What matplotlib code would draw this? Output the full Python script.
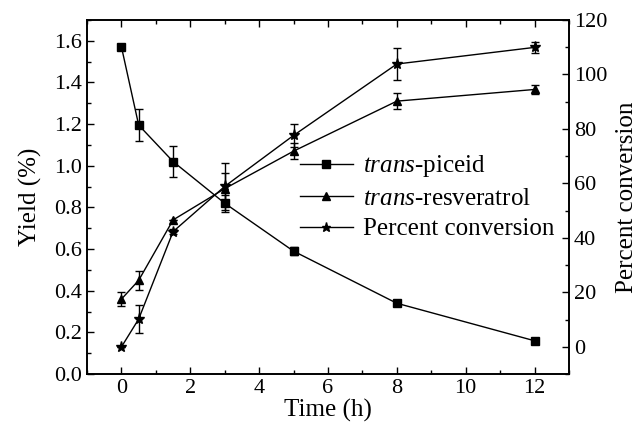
import matplotlib
matplotlib.use('Agg')
import matplotlib.pyplot as plt
from matplotlib.ticker import MultipleLocator

plt.rcParams['font.family'] = ['Liberation Serif', 'DejaVu Serif']
plt.rcParams['mathtext.fontset'] = 'custom'
plt.rcParams['mathtext.rm'] = 'Liberation Serif'
plt.rcParams['mathtext.it'] = 'Liberation Serif:italic'

# data
time_h = [0, 0.5, 1.5, 3, 5, 8, 12]
piceid = [1.57, 1.195, 1.02, 0.82, 0.59, 0.34, 0.16]
piceid_err = [0.0, 0.078, 0.076, 0.04, 0.02, 0.0, 0.0]
resveratrol = [0.36, 0.45, 0.74, 0.89, 1.07, 1.31, 1.366]
resveratrol_err = [0.035, 0.045, 0.0, 0.075, 0.037, 0.04, 0.02]
conversion = [0.0, 10.2, 42.3, 58.9, 77.6, 103.8, 109.9]
conversion_err = [0.0, 5.0, 1.0, 8.6, 4.3, 6.0, 2.0]

fig = plt.figure(figsize=(6.4, 4.32), dpi=100)
ax = fig.add_axes([0.136, 0.134, 0.753, 0.82])
ax2 = ax.twinx()

kw = dict(color='black', lw=1.0, capsize=3, elinewidth=1.0, capthick=1.0, ms=6)
c1 = ax.errorbar(time_h, piceid, yerr=piceid_err, fmt='-s', **kw)
c2 = ax.errorbar(time_h, resveratrol, yerr=resveratrol_err, fmt='-^', **kw)
c3 = ax2.errorbar(time_h, conversion, yerr=conversion_err, fmt='-*', color='black',
                  lw=1.0, capsize=3, elinewidth=1.0, capthick=1.0, ms=8)

ax.set_xlim(-1, 13)
ax.set_ylim(0, 1.7)
ax2.set_ylim(-10, 120)

ax.xaxis.set_major_locator(MultipleLocator(2))
ax.xaxis.set_minor_locator(MultipleLocator(1))
ax.yaxis.set_major_locator(MultipleLocator(0.2))
ax.yaxis.set_minor_locator(MultipleLocator(0.1))
ax.yaxis.set_major_formatter(plt.FormatStrFormatter('%.1f'))
ax2.yaxis.set_major_locator(MultipleLocator(20))
ax2.yaxis.set_minor_locator(MultipleLocator(10))

ax.tick_params(which='both', direction='in', top=True, labelsize=16, width=1.0)
ax.tick_params(which='major', length=5)
ax.tick_params(which='minor', length=3)
ax.tick_params(axis='y', right=False)
ax2.tick_params(which='both', direction='in', labelsize=16, width=1.0)
ax2.tick_params(which='major', length=5)
ax2.tick_params(which='minor', length=3)

for a in (ax, ax2):
    for s in a.spines.values():
        s.set_linewidth(1.2)

ax.set_xlabel('Time (h)', fontsize=18, labelpad=1)
ax.set_ylabel('Yield (%)', fontsize=18, labelpad=9)
ax2.set_ylabel('Percent conversion', fontsize=18, labelpad=6)

handles = [c1.lines[0], c2.lines[0], c3.lines[0]]
labels = [r'$\it{trans}$-piceid', r'$\it{trans}$-resveratrol', 'Percent conversion']
ax2.legend(handles, labels, loc='upper left', bbox_to_anchor=(0.469, 0.645),
           bbox_transform=fig.transFigure, frameon=False, fontsize=18,
           handlelength=2.1, handletextpad=0.4, labelspacing=0.32, numpoints=1,
           borderaxespad=0, borderpad=0, markerscale=0.85)

fig.savefig('out.png', dpi=100)
